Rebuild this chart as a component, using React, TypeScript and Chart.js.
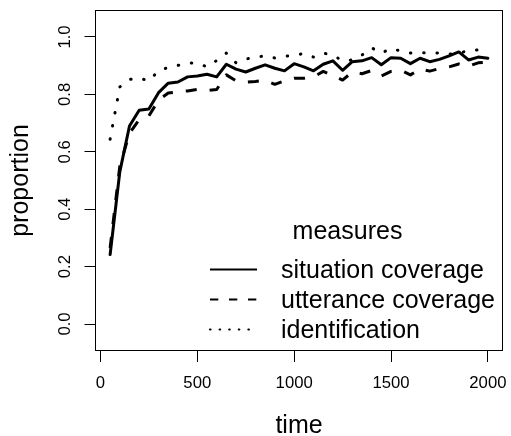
import React, { useEffect, useRef } from "react";
import { Chart, registerables } from "chart.js";

Chart.register(...registerables);

const times = [
  50, 100, 150, 200, 250, 300, 350, 400, 450, 500,
  550, 600, 650, 700, 750, 800, 850, 900, 950, 1000,
  1050, 1100, 1150, 1200, 1250, 1300, 1350, 1400, 1450, 1500,
  1550, 1600, 1650, 1700, 1750, 1800, 1850, 1900, 1950, 2000,
];

const situationCoverage = [
  0.242, 0.53, 0.69, 0.745, 0.749, 0.806, 0.839, 0.843, 0.861, 0.864,
  0.87, 0.861, 0.905, 0.888, 0.878, 0.891, 0.903, 0.891, 0.882, 0.907,
  0.896, 0.882, 0.905, 0.917, 0.884, 0.914, 0.917, 0.928, 0.903, 0.928,
  0.926, 0.907, 0.926, 0.914, 0.922, 0.934, 0.948, 0.92, 0.93, 0.926,
];

const utteranceCoverage = [
  0.265, 0.55, 0.665, 0.712, 0.725, 0.78, 0.805, 0.809, 0.812, 0.817,
  0.813, 0.817, 0.868, 0.847, 0.843, 0.845, 0.849, 0.835, 0.847, 0.856,
  0.856, 0.861, 0.88, 0.866, 0.85, 0.878, 0.872, 0.883, 0.864, 0.88,
  0.884, 0.868, 0.889, 0.881, 0.89, 0.896, 0.906, 0.898, 0.91, 0.912,
];

const identification = [
  0.644, 0.826, 0.852, 0.857, 0.847, 0.882, 0.894, 0.901, 0.909, 0.909,
  0.896, 0.918, 0.944, 0.91, 0.923, 0.93, 0.934, 0.927, 0.932, 0.937,
  0.942, 0.93, 0.944, 0.937, 0.917, 0.92, 0.937, 0.962, 0.944, 0.96,
  0.951, 0.944, 0.945, 0.945, 0.944, 0.94, 0.945, 0.951, 0.955, 0.955,
];

const seriesLabels = ["situation coverage", "utterance coverage", "identification"];
const legendTitle = "measures";
const xTitle = "time";
const yTitle = "proportion";
const xTickValues = [0, 500, 1000, 1500, 2000];
const yTickValues = [0, 0.2, 0.4, 0.6, 0.8, 1.0];

const FONT = "'Liberation Sans', Arial, Helvetica, sans-serif";

const legendStyles = [
  { dash: [] as number[], cap: "butt" as CanvasLineCap },
  { dash: [8.3, 10.7], cap: "butt" as CanvasLineCap },
  { dash: [0.5, 9.1], cap: "round" as CanvasLineCap },
];

const boxPlugin = {
  id: "rbox",
  afterDraw(chart: any) {
    const { ctx, chartArea: a } = chart;
    ctx.save();
    ctx.strokeStyle = "#000";
    ctx.lineWidth = 1;
    ctx.setLineDash([]);
    ctx.strokeRect(
      Math.round(a.left) + 0.5,
      Math.round(a.top) + 0.5,
      Math.round(a.right - a.left) - 1,
      Math.round(a.bottom - a.top) - 1
    );
    ctx.restore();
  },
};

const legendPlugin = {
  id: "rlegend",
  afterDraw(chart: any) {
    const { ctx } = chart;
    ctx.save();
    ctx.fillStyle = "#000";
    ctx.font = `25px ${FONT}`;
    ctx.textBaseline = "alphabetic";
    ctx.textAlign = "center";
    ctx.fillText(legendTitle, 347.5, 239);
    ctx.textAlign = "left";
    chart.data.datasets.forEach((ds: any, i: number) => {
      const ly = 269.5 + i * 30;
      ctx.beginPath();
      ctx.strokeStyle = ds.borderColor;
      ctx.lineWidth = 2.2;
      ctx.lineCap = legendStyles[i].cap;
      ctx.setLineDash(legendStyles[i].dash);
      ctx.moveTo(210, ly);
      ctx.lineTo(257, ly);
      ctx.stroke();
      ctx.setLineDash([]);
      ctx.fillText(ds.label, 281, 278 + i * 30);
    });
    ctx.restore();
  },
};

export default function App() {
  const canvasRef = useRef<HTMLCanvasElement | null>(null);

  useEffect(() => {
    const canvas = canvasRef.current;
    if (!canvas) return;
    const mk = (vals: number[]) => times.map((t, i) => ({ x: t, y: vals[i] }));
    const zeroPad = (s: any) => {
      s.paddingTop = 0;
      s.paddingBottom = 0;
      s.paddingLeft = 0;
      s.paddingRight = 0;
    };
    const chart = new Chart(canvas, {
      type: "line",
      data: {
        datasets: [
          {
            label: seriesLabels[0],
            data: mk(situationCoverage),
            borderColor: "#000",
            borderWidth: 3,
            pointRadius: 0,
            tension: 0,
            borderCapStyle: "round",
            borderJoinStyle: "round",
            fill: false,
          },
          {
            label: seriesLabels[1],
            data: mk(utteranceCoverage),
            borderColor: "#000",
            borderWidth: 3,
            pointRadius: 0,
            tension: 0,
            borderDash: [11, 13],
            borderCapStyle: "butt",
            borderJoinStyle: "round",
            fill: false,
          },
          {
            label: seriesLabels[2],
            data: mk(identification),
            borderColor: "#000",
            borderWidth: 3,
            pointRadius: 0,
            tension: 0,
            borderDash: [0.5, 12.8],
            borderCapStyle: "round",
            borderJoinStyle: "round",
            fill: false,
          },
        ],
      },
      options: {
        animation: false,
        responsive: false,
        devicePixelRatio: 1,
        layout: { padding: { top: 10, right: 8, left: 0, bottom: 0 } },
        plugins: {
          legend: { display: false },
          tooltip: { enabled: false },
        },
        scales: {
          x: {
            type: "linear",
            min: -28,
            max: 2078,
            afterBuildTicks: (s: any) => {
              s.ticks = xTickValues.map((v) => ({ value: v }));
            },
            afterFit: (s: any) => {
              s.height = 85;
              zeroPad(s);
            },
            ticks: {
              autoSkip: false,
              minRotation: 0,
              maxRotation: 0,
              color: "#000",
              padding: 11,
              font: { size: 16.7, family: FONT },
              callback: (v: any) => String(v),
            },
            grid: {
              drawOnChartArea: false,
              drawTicks: true,
              tickLength: 11,
              color: "#000",
              lineWidth: 1,
            },
            border: { display: false },
            title: {
              display: true,
              text: xTitle,
              color: "#000",
              font: { size: 25, family: FONT, lineHeight: 0.8 },
              padding: { top: 0, bottom: 0 },
            },
          },
          y: {
            type: "linear",
            min: -0.094,
            max: 1.094,
            afterBuildTicks: (s: any) => {
              s.ticks = yTickValues.map((v) => ({ value: v }));
            },
            afterFit: (s: any) => {
              s.width = 95;
              zeroPad(s);
            },
            ticks: {
              autoSkip: false,
              minRotation: 90,
              maxRotation: 90,
              crossAlign: "center",
              color: "#000",
              padding: 7.7,
              font: { size: 16.7, family: FONT },
              callback: (v: any) => Number(v).toFixed(1),
            },
            grid: {
              drawOnChartArea: false,
              drawTicks: true,
              tickLength: 10.5,
              color: "#000",
              lineWidth: 1,
            },
            border: { display: false },
            title: {
              display: true,
              text: yTitle,
              color: "#000",
              font: { size: 25, family: FONT, lineHeight: 0.8 },
              padding: { top: 11.3, bottom: 0 },
            },
          },
        },
      } as any,
      plugins: [boxPlugin, legendPlugin],
    });
    return () => chart.destroy();
  }, []);

  return (
    <div style={{ position: "absolute", left: 0, top: 0, width: 511, height: 436, background: "#fff" }}>
      <canvas ref={canvasRef} width={511} height={436} />
    </div>
  );
}
